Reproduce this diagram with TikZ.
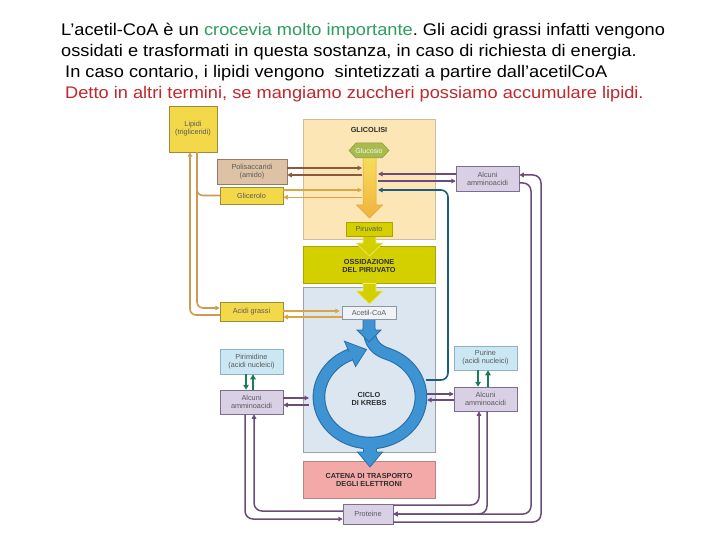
\documentclass[tikz,border=0pt]{standalone}
\usepackage{fontspec}
\setmainfont{Liberation Sans}
\newfontfamily\hdrfont[FakeStretch=1.085]{Liberation Sans}
\usetikzlibrary{arrows.meta,calc}
\definecolor{hgreen}{HTML}{2E9E5E}
\definecolor{hred}{HTML}{C1272D}
\definecolor{ybox}{HTML}{F3D849}
\definecolor{yedge}{HTML}{9C8C3A}
\definecolor{tanbox}{HTML}{DEC2A6}
\definecolor{tanedge}{HTML}{8E7C6C}
\definecolor{glyc}{HTML}{FCE6B5}
\definecolor{glycE}{HTML}{CDBF9E}
\definecolor{olv}{HTML}{D4D000}
\definecolor{olvE}{HTML}{A8A400}
\definecolor{olvL}{HTML}{ECEA80}
\definecolor{kreb}{HTML}{DCE6F1}
\definecolor{krebE}{HTML}{9AA3AD}
\definecolor{catc}{HTML}{F2A9A7}
\definecolor{catE}{HTML}{B58585}
\definecolor{pbox}{HTML}{DAD0E5}
\definecolor{pedge}{HTML}{7C6E8E}
\definecolor{lbbox}{HTML}{CAE7F3}
\definecolor{lbedge}{HTML}{8DB2C2}
\definecolor{acbox}{HTML}{EFF3F8}
\definecolor{acedge}{HTML}{8C96A0}
\definecolor{purl}{HTML}{6B4A7C}
\definecolor{brl}{HTML}{8C5A3A}
\definecolor{gdl}{HTML}{DBA544}
\definecolor{lipl}{HTML}{CC9A52}
\definecolor{tealL}{HTML}{1D5E7E}
\definecolor{grl}{HTML}{1F7A5C}
\definecolor{blL}{HTML}{3E93D3}
\definecolor{blD}{HTML}{2C6FA6}
\definecolor{hexG}{HTML}{A9BA4E}
\definecolor{hexE}{HTML}{8A9A3A}
\definecolor{labg}{HTML}{5A5A5A}
\definecolor{boldg}{HTML}{2E2E2E}
\definecolor{ylT}{HTML}{F7DD5C}
\definecolor{ylB}{HTML}{F1B23E}
\definecolor{ylE}{HTML}{E2A535}
\begin{document}
\frenchspacing
\begin{tikzpicture}[x=1pt,y=-1pt,
  arr/.style={-{Triangle[length=4.5pt,width=4.5pt]}},
  garr/.style={-{Triangle[length=5pt,width=5.5pt]}},
  bx/.style={draw, line width=0.5pt, inner sep=0pt, align=center,
     font=\fontsize{7.3}{8.2}\selectfont, text=labg},
  ybx/.style={bx, fill=ybox, draw=yedge},
  tbx/.style={bx, fill=tanbox, draw=tanedge},
  pbx/.style={bx, fill=pbox, draw=pedge},
  lbx/.style={bx, fill=lbbox, draw=lbedge},
  panel/.style={draw, line width=0.5pt, inner sep=0pt},
  bold/.style={inner sep=0pt, align=center, text=boldg,
     font=\fontsize{7.3}{8.6}\selectfont\bfseries},
  puline/.style={draw=purl, line width=1.5pt},
  brline/.style={draw=brl, line width=1.5pt},
  gdline/.style={draw=gdl, line width=1.5pt},
  lipline/.style={draw=lipl, line width=1.6pt},
  tline/.style={draw=tealL, line width=1.6pt},
  grline/.style={draw=grl, line width=2pt},
  hdr/.style={anchor=base west, inner sep=0pt, font=\hdrfont\fontsize{16.8}{20}\selectfont}
]
\useasboundingbox (0,0) rectangle (720,540);
\fill[white] (0,0) rectangle (720,540);

% header text
\node[hdr] (t1) at (61,36) {L’acetil-CoA è un \textcolor{hgreen}{crocevia molto importante}. Gli acidi grassi infatti vengono};
\node[hdr] (t2) at (61,57) {ossidati e trasformati in questa sostanza, in caso di richiesta di energia.};
\node[hdr] (t3) at (65,78) {In caso contario, i lipidi vengono~ sintetizzati a partire dall’acetilCoA};
\node[hdr, text=hred] (t4) at (65,99) {Detto in altri termini, se mangiamo zuccheri possiamo accumulare lipidi.};

% panels
\node[panel, fill=glyc, draw=glycE, minimum width=132, minimum height=120] (glyP) at (369,179) {};
\node[panel, fill=olv, draw=olvE, minimum width=132, minimum height=37] (ossP) at (369,264.5) {};
\node[panel, fill=kreb, draw=krebE, minimum width=132, minimum height=165] (krebP) at (369,369.5) {};
\node[panel, fill=catc, draw=catE, minimum width=132, minimum height=37] (catP) at (369,479.5) {};

% reference coordinates
\coordinate (gsL) at (362,150);
\coordinate (gsR) at (378,150);
\coordinate (ringE) at (427,397);
\coordinate (ringW) at (309,397);
\coordinate (tealc) at (448,190);
\coordinate (rc1) at (531,300);
\coordinate (rc2) at (541,300);

% big arrows
\shadedraw[top color=ylT, bottom color=ylB, draw=ylE, line width=0.5pt]
  (363,157) -- (376,157) -- (376,205) -- (382.5,205) -- (369.5,218) -- (356.5,205) -- (363,205) -- cycle;
\filldraw[fill=hexG, draw=hexE, line width=0.5pt]
  (349,150.5) -- (356,143) -- (382,143) -- (389,150.5) -- (382,158) -- (356,158) -- cycle;
\filldraw[fill=olv, draw=olvL, line width=0.6pt]
  (363,236) -- (376,236) -- (376,243) -- (383,243) -- (369.5,256) -- (356,243) -- (363,243) -- cycle;
\filldraw[fill=olv, draw=olvL, line width=0.6pt]
  (363,283.5) -- (376,283.5) -- (376,291) -- (383,291) -- (369.5,304) -- (356,291) -- (363,291) -- cycle;

% Krebs ring
\draw[draw=blD, line width=12.6pt]
  (369,328) .. controls (369,344) and (377.5,350.6) .. (387.4,353.8)
  arc[start angle=-70, end angle=248, x radius=51, y radius=46];
\draw[draw=blL, line width=10.4pt]
  (369,328) .. controls (369,344) and (377.5,350.6) .. (387.4,353.8)
  arc[start angle=-70, end angle=248, x radius=51, y radius=46];
\filldraw[fill=blL, draw=blD, line width=0.8pt]
  (344.4,341.2) -- (366.5,349.5) -- (355.6,366.5) -- cycle;
\fill[blL] (347.6,351.5) -- (352.4,353.4) -- (352.4,359.4) -- (349,359) -- cycle;
\filldraw[fill=blL, draw=blD, line width=0.8pt]
  (363,319) -- (375,319) -- (375,330) -- (381,330) -- (369,342) -- (357,330) -- (363,330) -- cycle;
\fill[blL] (363.5,445) -- (376.5,445) -- (376.5,452) -- (382.5,452) -- (370,467) -- (357.5,452) -- (363.5,452) -- cycle;
\draw[blD, line width=0.8pt] (363.5,448.8) -- (363.5,452) -- (357.5,452) -- (370,467) -- (382.5,452) -- (376.5,452) -- (376.5,448.8);

% labels in panels
\node[bold] (glyT) at (369,130) {GLICOLISI};
\node[bold] (ossT) at (369,266) {OSSIDAZIONE\\DEL PIRUVATO};
\node[bold] (krebT) at (369,399) {CICLO\\DI KREBS};
\node[bold] (catT) at (369,480) {CATENA DI TRASPORTO\\DEGLI ELETTRONI};
\node[inner sep=0pt, font=\fontsize{7}{8}\selectfont, text=white!90!hexG] (gluc) at (369,150.5) {Glucosio};

% boxes
\node[ybx, minimum width=48, minimum height=46] (lipidi) at (193,129) {Lipidi\\(trigliceridi)};
\node[tbx, minimum width=70, minimum height=25] (polis) at (252,171.5) {Polisaccaridi\\(amido)};
\node[ybx, minimum width=63, minimum height=17] (glic) at (251.5,195.5) {Glicerolo};
\node[ybx, minimum width=63, minimum height=19] (agrassi) at (251.5,311.5) {Acidi grassi};
\node[lbx, minimum width=63, minimum height=25] (pirim) at (251.5,361.5) {Pirimidine\\(acidi nucleici)};
\node[pbx, minimum width=63, minimum height=24] (alcL) at (251.5,402) {Alcuni\\amminoacidi};
\node[pbx, minimum width=63, minimum height=25] (alcT) at (487.5,178.5) {Alcuni\\amminoacidi};
\node[lbx, minimum width=63, minimum height=24] (purine) at (485.5,358) {Purine\\(acidi nucleici)};
\node[pbx, minimum width=63, minimum height=24] (alcR) at (485.5,399) {Alcuni\\amminoacidi};
\node[bx, fill=olv, draw=olvE, minimum width=46, minimum height=14] (piruv) at (369,229) {Piruvato};
\node[bx, fill=acbox, draw=acedge, minimum width=54, minimum height=13] (acetil) at (369,312.5) {Acetil-CoA};
\node[pbx, minimum width=50, minimum height=20] (proteine) at (368,514) {Proteine};

% lipid connectors
\draw[lipline, rounded corners=6, arr] ($(lipidi.south)+(4,0)$) |- ($(agrassi.west)+(0,-3.5)$);
\draw[lipline, rounded corners=6] ($(lipidi.south)+(4,24)$) |- (glic.west);
\draw[lipline, rounded corners=6, arr] ($(agrassi.west)+(0,3.5)$) -| ($(lipidi.south)+(-3,0)$);

% polisaccaridi / glicerolo
\draw[brline, arr] ($(polis.east)+(0,-3.5)$) -- ($(polis.east -| gsL)+(0,-3.5)$);
\draw[brline, arr] ($(polis.east -| gsL)+(0,3.5)$) -- ($(polis.east)+(0,3.5)$);
\draw[gdline, arr] ($(glic.east)+(0,-5.5)$) -- ($(glic.east -| gsL)+(0,-5.5)$);
\draw[gdline, arr] ($(glic.east -| gsL)+(0,1.8)$) -- ($(glic.east)+(0,1.8)$);

% acidi grassi <-> acetil-CoA
\draw[gdline, arr] ($(agrassi.east)+(0,-0.5)$) -- ($(agrassi.east -| acetil.west)+(-2,-0.5)$);
\draw[gdline, arr] ($(agrassi.east -| acetil.west)+(0,5.5)$) -- ($(agrassi.east)+(0,5.5)$);

% top amminoacidi <-> glycolysis
\draw[puline, arr] ($(alcT.west)+(0,-4.5)$) -- ($(alcT.west -| gsR)+(0,-4.5)$);
\draw[puline, arr] ($(alcT.west -| gsR)+(0,2.5)$) -- ($(alcT.west)+(0,2.5)$);

% teal
\draw[tline, rounded corners=7, arr] ($(ringE)+(-1,-17)$) -| (tealc) -- (tealc -| gsR);

% right amminoacidi <-> Krebs
\draw[puline, arr] ($(alcR.west -| ringE)+(0,-5)$) -- ($(alcR.west)+(0,-5)$);
\draw[puline, arr] ($(alcR.west)+(0,1)$) -- ($(alcR.west -| ringE)+(0,1)$);
\draw[grline, garr] ($(purine.south)+(-7.5,0)$) -- ($(alcR.north)+(-7.5,0)$);
\draw[grline, garr] ($(alcR.north)+(2.5,0)$) -- ($(purine.south)+(2.5,0)$);

% left amminoacidi
\draw[grline, garr] ($(pirim.south)+(-5.5,0)$) -- ($(alcL.north)+(-5.5,0)$);
\draw[grline, garr] ($(alcL.north)+(1.5,0)$) -- ($(pirim.south)+(1.5,0)$);
\draw[puline, arr] ($(alcL.east)+(0,-4)$) -- ($(alcL.east -| ringW)+(0,-4)$);
\draw[puline, arr] ($(alcL.east -| ringW)+(0,3)$) -- ($(alcL.east)+(0,3)$);
\draw[puline, rounded corners=8, arr] ($(alcL.south)+(-6.5,0)$) |- ($(proteine.west)+(0,5)$);
\draw[puline, rounded corners=8, arr] ($(proteine.west)+(0,-3)$) -| ($(alcL.south)+(2.5,0)$);

% right side to proteine
\draw[puline, rounded corners=8, arr] ($(proteine.east)+(0,-9)$) -| ($(alcR.south)+(-6.5,0)$);
\draw[puline, rounded corners=8, arr] ($(alcR.south)+(1.5,0)$) |- (proteine.east);
\draw[puline, rounded corners=8, arr] ($(alcT.east)+(0,4.5)$) -- ($(alcT.east -| rc1)+(0,4.5)$)
   -- (proteine.east -| rc1) -- (proteine.east);
\draw[puline, rounded corners=8, arr] ($(proteine.east)+(0,8)$) -- ($(proteine.east -| rc2)+(0,8)$)
   -- ($(alcT.east -| rc2)+(0,-3.5)$) -- ($(alcT.east)+(0,-3.5)$);
\end{tikzpicture}
\end{document}
